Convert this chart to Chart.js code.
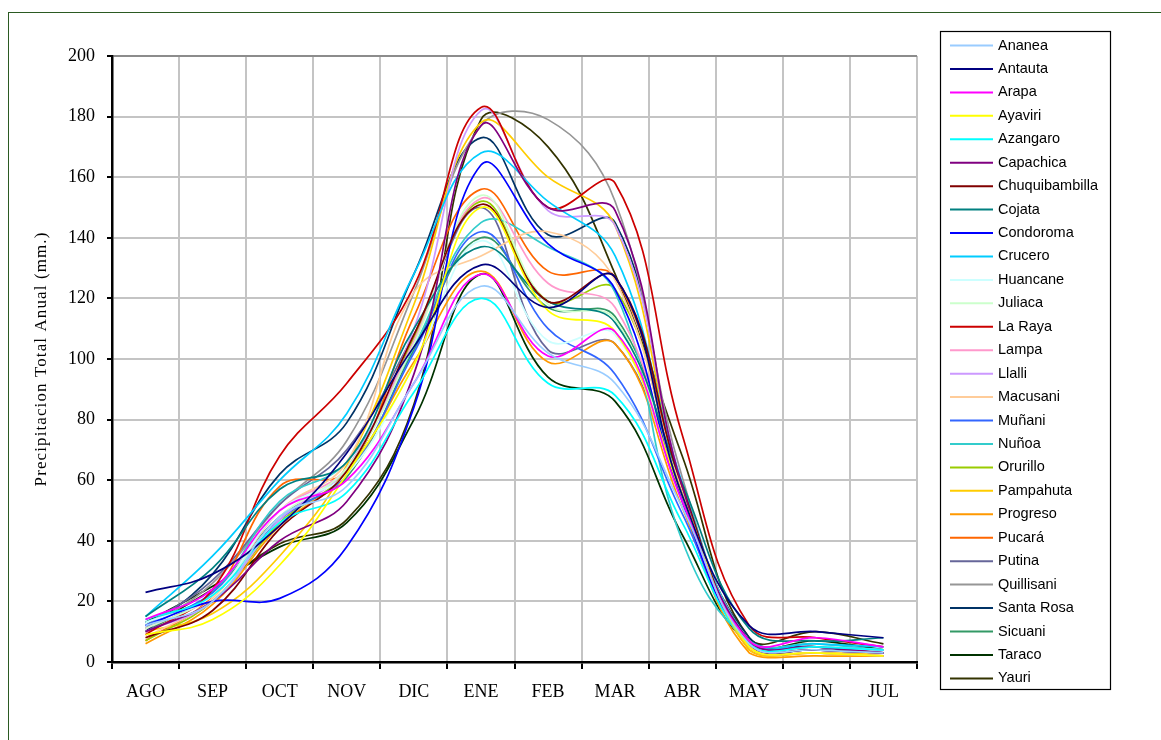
<!DOCTYPE html>
<html>
<head>
<meta charset="utf-8">
<script src="https://cdn.jsdelivr.net/npm/chart.js@4/dist/chart.umd.min.js"></script>
<style>
  html, body { margin: 0; padding: 0; background: #fff; }
  #frame { position: absolute; left: 8px; top: 12px; width: 1160px; height: 740px; border: 1.5px solid #2b5a22; box-sizing: border-box; }
  #wrap { position: absolute; left: 0; top: 0; width: 1161px; height: 740px; }
</style>
</head>
<body>
<div id="frame"></div>
<div id="wrap"><canvas id="c" width="1161" height="740"></canvas></div>
<script>
// Monthly precipitation (mm) for the stations, hydrological year AGO–JUL
const months = ['AGO', 'SEP', 'OCT', 'NOV', 'DIC', 'ENE', 'FEB', 'MAR', 'ABR', 'MAY', 'JUN', 'JUL'];

const stationNames = ['Ananea', 'Antauta', 'Arapa', 'Ayaviri', 'Azangaro', 'Capachica', 'Chuquibambilla',
  'Cojata', 'Condoroma', 'Crucero', 'Huancane', 'Juliaca', 'La Raya', 'Lampa', 'Llalli', 'Macusani',
  'Muñani', 'Nuñoa', 'Orurillo', 'Pampahuta', 'Progreso', 'Pucará', 'Putina', 'Quillisani',
  'Santa Rosa', 'Sicuani', 'Taraco', 'Yauri'];

const ananea         = [12, 20, 48, 58,  92, 124, 102,  92, 51,  6,  4, 3];
const antauta        = [23, 29, 45, 69, 104, 131, 117, 127, 55, 12, 10, 8];
const arapa          = [14, 24, 50, 60,  92, 128, 101, 109, 53,  7,  8, 5];
const ayaviri        = [ 9, 14, 32, 62,  98, 150, 116, 109, 55,  5,  3, 2];
const azangaro       = [14, 22, 46, 56,  89, 120,  92,  88, 46,  6,  5, 4];
const capachica      = [10, 20, 40, 53,  95, 177, 150, 149, 58,  7,  5, 3];
const chuquibambilla = [ 8, 17, 44, 63, 108, 151, 119, 127, 58,  6,  4, 3];
const cojata         = [15, 31, 57, 66, 110, 137, 119, 112, 59, 11,  7, 8];
const condoroma      = [12, 20, 21, 38,  84, 164, 138, 123, 53,  6,  4, 3];
const crucero        = [15, 35, 60, 82, 128, 168, 152, 134, 59,  7,  6, 5];
const huancane       = [13, 22, 50, 62,  98, 139, 106, 108, 53,  6,  5, 4];
const juliaca        = [11, 22, 48, 64, 105, 154, 118, 113, 55,  6,  4, 3];
const laRaya         = [ 9, 24, 68, 92, 124, 183, 150, 158, 75, 12,  8, 5];
const lampa          = [11, 22, 50, 64, 106, 153, 125, 117, 55,  5,  3, 2];
const llalli         = [10, 20, 47, 64, 110, 182, 149, 144, 59,  6,  4, 3];
const macusani       = [ 8, 21, 50, 66, 122, 134, 142, 126, 57,  7,  4, 3];
const munani         = [12, 23, 47, 62, 102, 142, 110,  95, 49,  6,  5, 4];
const nunoa          = [13, 23, 53, 66, 104, 145, 137, 122, 40,  7,  6, 4];
const orurillo       = [ 7, 20, 46, 63, 107, 152, 119, 123, 55,  5,  3, 2];
const pampahuta      = [10, 16, 35, 65, 118, 178, 160, 144, 57,  4,  3, 3];
const progreso       = [ 6, 19, 45, 62,  99, 129,  99, 105, 51,  3,  2, 2];
const pucara         = [ 7, 22, 58, 63, 114, 156, 129, 127, 57,  4,  3, 2];
const putina         = [12, 27, 52, 70, 108, 150, 103, 105, 55,  6,  4, 3];
const quillisani     = [11, 26, 52, 73, 122, 177, 179, 152, 61,  7,  5, 4];
const santaRosa      = [10, 29, 62, 79, 128, 173, 141, 145, 58,  8,  5, 3];
const sicuani        = [10, 23, 48, 61, 103, 140, 117, 114, 56,  7,  5, 4];
const taraco         = [13, 25, 38, 46,  80, 128,  94,  86, 42,  6,  7, 4];
const yauri          = [11, 24, 39, 47,  85, 179, 170, 128, 68,  8, 10, 6];

const stationValues = [ananea, antauta, arapa, ayaviri, azangaro, capachica, chuquibambilla,
  cojata, condoroma, crucero, huancane, juliaca, laRaya, lampa, llalli, macusani,
  munani, nunoa, orurillo, pampahuta, progreso, pucara, putina, quillisani,
  santaRosa, sicuani, taraco, yauri];

const lineColors = ['#99CCFF', '#000080', '#FF00FF', '#FFFF00', '#00FFFF', '#800080', '#800000',
  '#008080', '#0000FF', '#00CCFF', '#CCFFFF', '#CCFFCC', '#CC0000', '#FF99CC', '#CC99FF', '#FFCC99',
  '#3366FF', '#33CCCC', '#99CC00', '#FFCC00', '#FF9900', '#FF6600', '#666699', '#969696',
  '#003366', '#339966', '#003300', '#333300'];

const yTicks = [0, 20, 40, 60, 80, 100, 120, 140, 160, 180, 200];
const yTitle = 'Precipitacion Total Anual (mm.)';

const serif = '"Liberation Serif", "Times New Roman", serif';
const sans = '"Liberation Sans", Arial, sans-serif';

// Boxed legend on the right-hand side plus the rotated axis title
const sideDecor = {
  id: 'sideDecor',
  afterDraw(chart) {
    const ctx = chart.ctx;
    ctx.save();
    // axis title
    ctx.fillStyle = '#000';
    ctx.font = '17px ' + serif;
    ctx.letterSpacing = '1.1px';
    ctx.textAlign = 'center';
    ctx.textBaseline = 'middle';
    ctx.translate(42, (chart.chartArea.top + chart.chartArea.bottom) / 2);
    ctx.rotate(-Math.PI / 2);
    ctx.fillText(yTitle, 0, 0);
    ctx.restore();

    ctx.save();
    const bx = 940.5, by = 31.5, bw = 170, bh = 658;
    ctx.fillStyle = '#fff';
    ctx.fillRect(bx, by, bw, bh);
    ctx.strokeStyle = '#000';
    ctx.lineWidth = 1.2;
    ctx.strokeRect(bx, by, bw, bh);
    ctx.font = '14.5px ' + sans;
    ctx.textAlign = 'left';
    ctx.textBaseline = 'middle';
    chart.data.datasets.forEach((ds, i) => {
      const y = 45.5 + i * 23.44;
      ctx.strokeStyle = ds.borderColor;
      ctx.lineWidth = 2;
      ctx.beginPath();
      ctx.moveTo(950, y);
      ctx.lineTo(993, y);
      ctx.stroke();
      ctx.fillStyle = '#000';
      ctx.fillText(ds.label, 998, y);
    });
    ctx.restore();
  }
};

new Chart(document.getElementById('c'), {
  type: 'line',
  data: {
    labels: months,
    datasets: stationNames.map((name, i) => ({
      label: name,
      data: stationValues[i],
      borderColor: lineColors[i],
      backgroundColor: lineColors[i],
      borderWidth: 1.7,
      pointRadius: 0,
      tension: 0.4,
      fill: false
    }))
  },
  options: {
    responsive: false,
    animation: false,
    events: [],
    layout: { padding: { left: 0, top: 56, right: 244, bottom: 0 } },
    plugins: {
      legend: { display: false },
      tooltip: { enabled: false }
    },
    scales: {
      x: {
        type: 'category',
        offset: true,
        grid: {
          offset: true,
          color: '#C4C4C4',
          lineWidth: 2,
          tickColor: '#000',
          tickLength: 7,
          tickWidth: 2
        },
        border: { color: '#000', width: 2.5 },
        ticks: { color: '#000', font: { family: serif, size: 18 }, padding: 12, maxRotation: 0 },
        afterFit(scale) { scale.height = 78; }
      },
      y: {
        min: 0,
        max: 200,
        afterBuildTicks(scale) { scale.ticks = yTicks.map(v => ({ value: v })); },
        grid: {
          color: ctx => (ctx.tick && ctx.tick.value === 200) ? '#8C8C8C' : '#C4C4C4',
          lineWidth: 2,
          tickColor: '#000',
          tickLength: 5,
          tickWidth: 2
        },
        border: { color: '#000', width: 2.5 },
        ticks: { color: '#000', font: { family: serif, size: 18 }, padding: 12 },
        afterFit(scale) { scale.width = 112; }
      }
    }
  },
  plugins: [sideDecor]
});
</script>
</body>
</html>
